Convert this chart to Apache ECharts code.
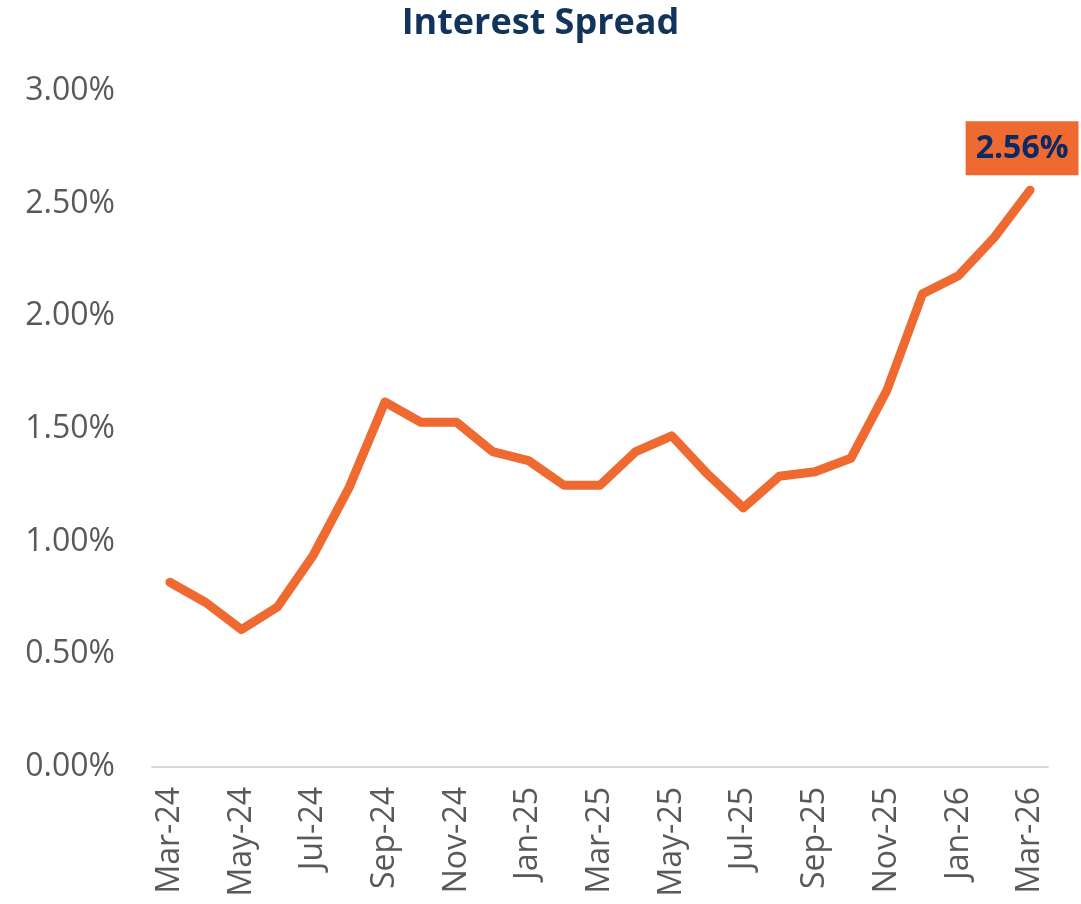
<!DOCTYPE html>
<html>
<head>
<meta charset="utf-8">
<script src="https://cdn.jsdelivr.net/npm/echarts@6/dist/echarts.min.js"></script>
<style>
* {
  margin: 0;
  padding: 0;
}
html, body {
  width: 1081px;
  height: 904px;
  background: #fff;
}
#spread {
  width: 1081px;
  height: 904px;
}
</style>
</head>
<body>
<div id="spread"></div>
<script>
// months on the x axis
var months = [
  "Mar-24", "Apr-24", "May-24", "Jun-24", "Jul-24", "Aug-24", "Sep-24",
  "Oct-24", "Nov-24", "Dec-24", "Jan-25", "Feb-25", "Mar-25", "Apr-25",
  "May-25", "Jun-25", "Jul-25", "Aug-25", "Sep-25", "Oct-25", "Nov-25",
  "Dec-25", "Jan-26", "Feb-26", "Mar-26"
];
// interest spread, in percent
var spreadValues = [
  0.82, 0.73, 0.61, 0.71, 0.94, 1.24, 1.62, 1.53, 1.53, 1.40, 1.36, 1.25,
  1.25, 1.40, 1.47, 1.30, 1.15, 1.29, 1.31, 1.37, 1.67, 2.10, 2.18, 2.35, 2.56
];
var yTicks = [0, 0.5, 1, 1.5, 2, 2.5, 3];

var lineColor = "#EE6A30";
var lastIdx = spreadValues.length - 1;
var seriesData = spreadValues.map(function (v, i) {
  if (i !== lastIdx) return v;
  // only the latest point gets the boxed value label
  return {
    value: v,
    symbol: "circle",
    symbolSize: 2,
    label: {
      show: true,
      position: "top",
      distance: 14,
      offset: [-8, 0],
      formatter: function (p) {
        return p.value.toFixed(2) + "%";
      },
      backgroundColor: lineColor,
      color: "#0B2A63",
      fontFamily: "Open Sans",
      fontWeight: "bold",
      fontSize: 32,
      lineHeight: 34,
      padding: [11, 10, 9, 10]
    }
  };
});

var chart = echarts.init(document.getElementById("spread"));
chart.setOption({
  animation: false,
  title: {
    text: "Interest Spread",
    left: "center",
    top: 1,
    textStyle: {
      fontFamily: "Open Sans",
      fontWeight: "bold",
      fontSize: 36,
      color: "#12345A"
    }
  },
  grid: {
    left: 152,
    right: 33,
    top: 91,
    bottom: 137
  },
  xAxis: {
    type: "category",
    data: months,
    boundaryGap: true,
    axisLine: { lineStyle: { color: "#D9D9D9", width: 2 } },
    axisTick: { show: false },
    axisLabel: {
      interval: 1,
      rotate: 90,
      margin: 20,
      fontFamily: "Open Sans",
      fontSize: 32,
      color: "#595959"
    }
  },
  yAxis: {
    type: "value",
    min: yTicks[0],
    max: yTicks[yTicks.length - 1],
    interval: 0.5,
    splitLine: { show: false },
    axisLine: { show: false },
    axisTick: { show: false },
    axisLabel: {
      margin: 37,
      fontFamily: "Open Sans",
      fontSize: 32,
      color: "#595959",
      formatter: function (v) {
        return v.toFixed(2) + "%";
      }
    }
  },
  series: [
    {
      type: "line",
      data: seriesData,
      symbol: "none",
      itemStyle: { color: lineColor },
      lineStyle: {
        color: lineColor,
        width: 9,
        cap: "round",
        join: "round"
      }
    }
  ]
});
</script>
</body>
</html>
